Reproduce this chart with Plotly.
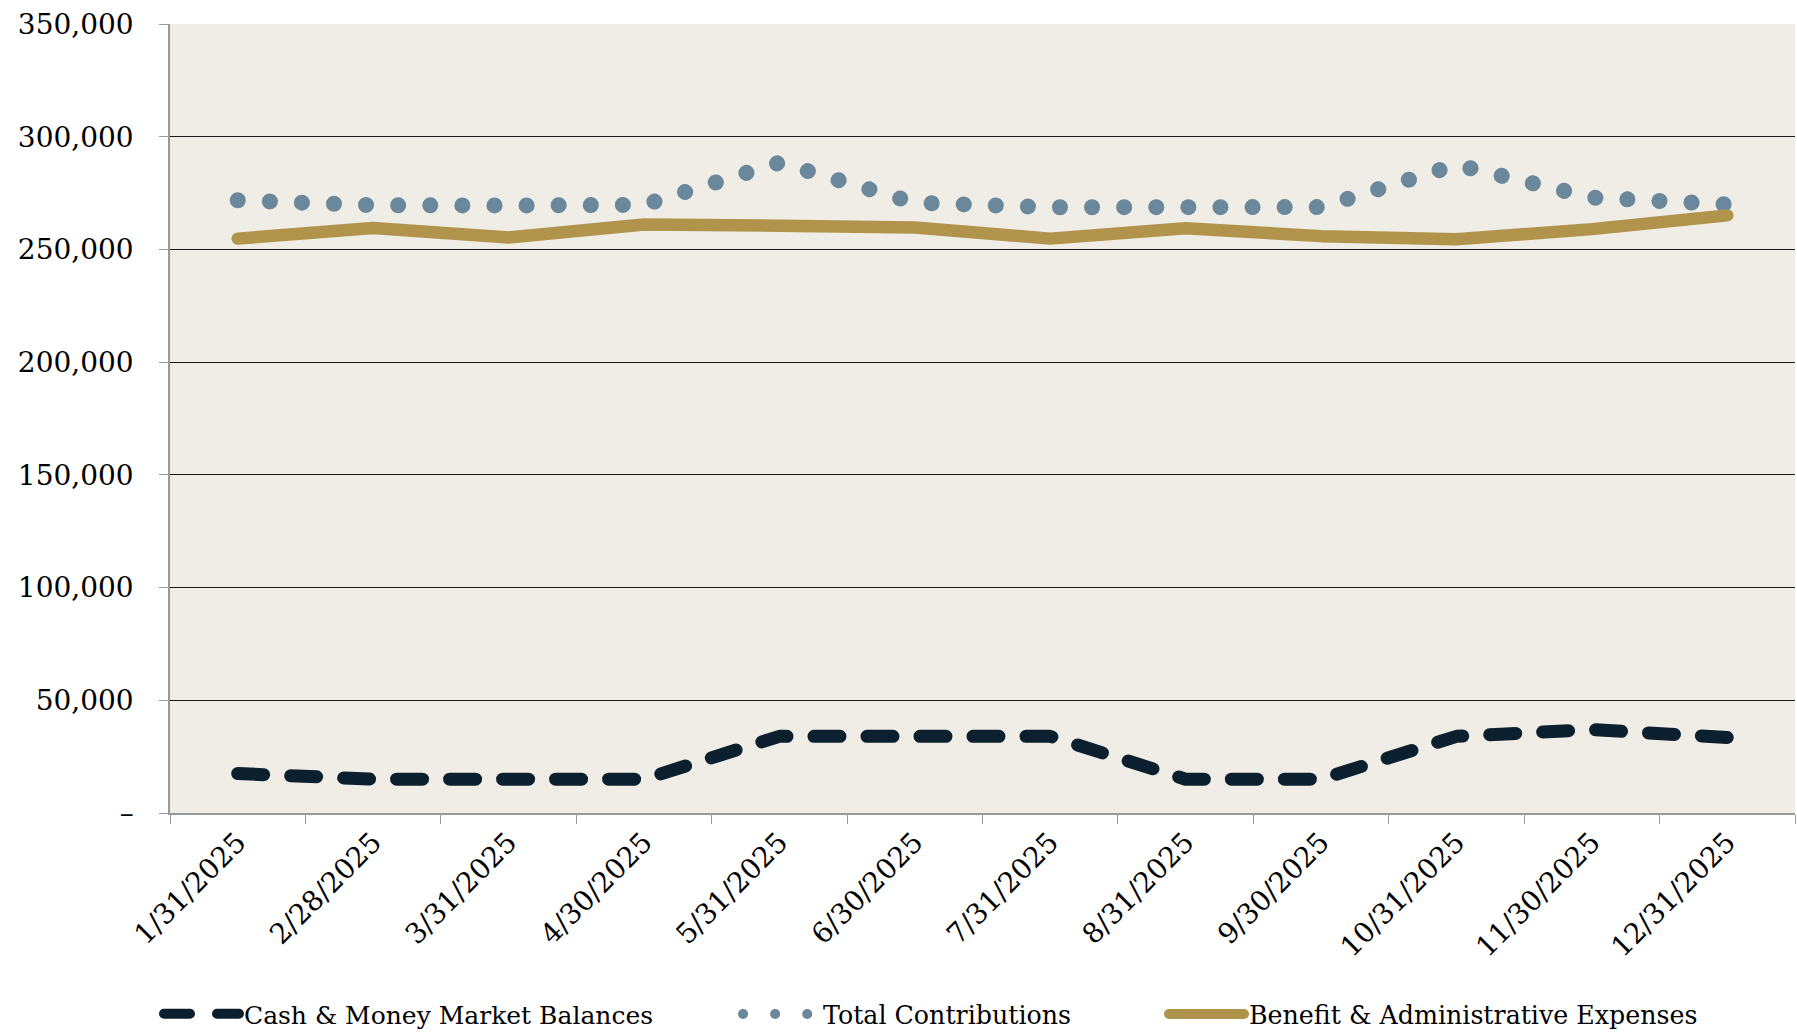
import plotly.graph_objects as go

dates = ["1/31/2025", "2/28/2025", "3/31/2025", "4/30/2025", "5/31/2025", "6/30/2025",
         "7/31/2025", "8/31/2025", "9/30/2025", "10/31/2025", "11/30/2025", "12/31/2025"]
cash = [17500, 15000, 15000, 15000, 34000, 34000, 34000, 15000, 15000, 34000, 37000, 33500]
total = [271800, 269600, 269500, 269800, 288500, 270700, 268700, 268300, 268800, 287500, 273000, 270000]
benefit = [254800, 259500, 255300, 261100, 260500, 259700, 254800, 259400, 255900, 254500, 259000, 265100]

y_tickvals = [0, 50000, 100000, 150000, 200000, 250000, 300000, 350000]
y_ticktext = ["–", "50,000", "100,000", "150,000", "200,000", "250,000", "300,000", "350,000"]

FONT = "DejaVu Serif"
W, H = 1797, 1033

fig = go.Figure()
fig.add_trace(go.Scatter(x=dates, y=cash, mode="lines", name="Cash & Money Market Balances",
                         line=dict(color="#0B1F2E", width=13, dash="26px,27px"), legend="legend"))
fig.add_trace(go.Scatter(x=dates, y=total, mode="lines", name="Total Contributions",
                         line=dict(color="#6A879B", width=16, dash="0.1px,32px"), legend="legend2"))
fig.add_trace(go.Scatter(x=dates, y=benefit, mode="lines", name="Benefit & Administrative Expenses",
                         line=dict(color="#B1944B", width=12.5), legend="legend3"))

leg_common = dict(orientation="h", xref="container", yref="container", yanchor="middle",
                  y=1 - 1014 / H, xanchor="left", bgcolor="rgba(0,0,0,0)", borderwidth=0,
                  font=dict(family=FONT, size=25.3, color="#000"), itemwidth=75)

fig.update_layout(
    width=W, height=H,
    margin=dict(l=170, r=2, t=24, b=220, autoexpand=False),
    paper_bgcolor="white",
    plot_bgcolor="#F0EDE6",
    font=dict(family=FONT, size=28, color="#000"),
    showlegend=True,
    legend=dict(leg_common, x=159 / W, font=dict(family=FONT, size=25, color="#000")),
    legend2=dict(leg_common, x=(743 - 5) / W),
    legend3=dict(leg_common, x=(1169 - 5) / W),
    xaxis=dict(type="category", range=[-0.5, 11.5], tickson="boundaries", ticks="outside", ticklen=9,
               tickcolor="#999", showline=True, linecolor="#999", linewidth=1.5,
               showgrid=False, tickangle=-45, automargin=False, tickfont=dict(family=FONT, size=28)),
    yaxis=dict(range=[0, 350000], tickvals=y_tickvals, ticktext=y_ticktext,
               ticks="outside", ticklen=9, tickcolor="#999",
               showline=True, linecolor="#999", linewidth=1.5,
               showgrid=True, gridcolor="#1a1a1a", gridwidth=1,
               zeroline=True, zerolinecolor="#999", zerolinewidth=1.5, automargin=False,
               ticklabelstandoff=20, tickfont=dict(family=FONT, size=28)),
)

css_js = """
var s=document.createElement('style');
s.innerHTML='.js-line{stroke-linecap:round !important;stroke-linejoin:round !important;}';
document.head.appendChild(s);
"""
fig.write_html("out.html", post_script=css_js)
